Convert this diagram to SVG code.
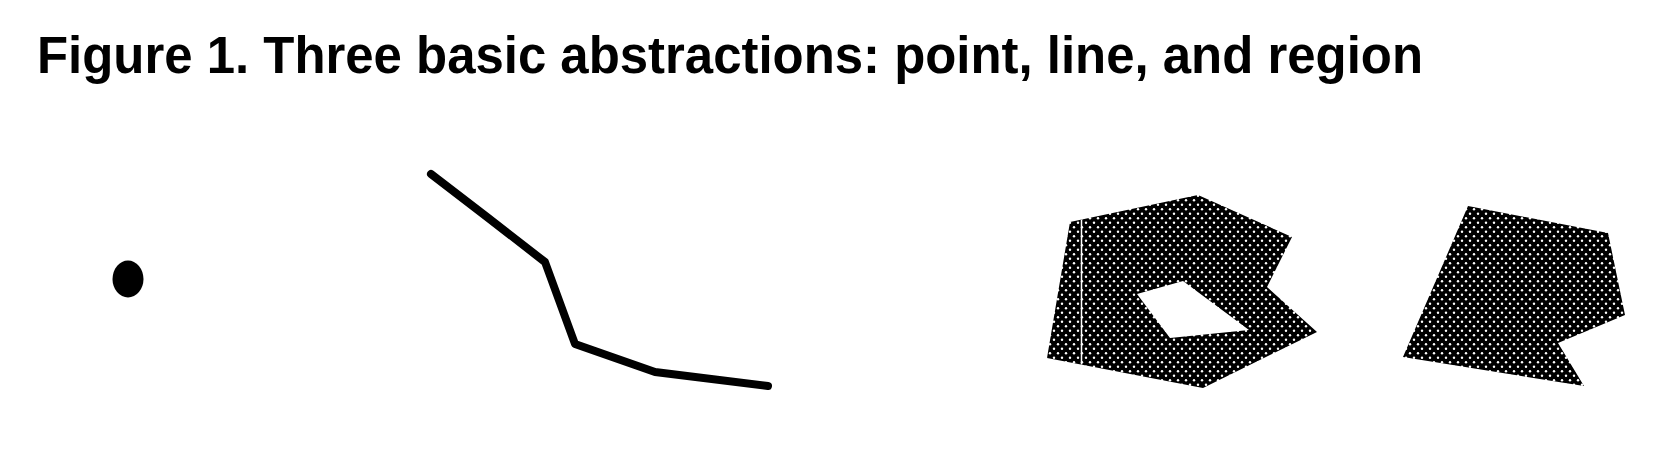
<svg xmlns="http://www.w3.org/2000/svg" width="1670" height="474" viewBox="0 0 1670 474">
  <style>
    .title { font-family: "Liberation Sans", Arial, Helvetica, sans-serif; font-weight: bold; font-size: 51px; fill: #000; }
    .stroke-line { fill: none; stroke: #000; stroke-width: 8; stroke-linejoin: round; stroke-linecap: round; }
    .dotted { fill: url(#dots); }
  </style>
  <defs>
    <pattern id="dots" patternUnits="userSpaceOnUse" width="8" height="9">
      <rect width="8" height="9" fill="#000"/>
      <circle cx="2" cy="2.25" r="1.2" fill="#fff"/>
      <circle cx="6" cy="6.75" r="1.2" fill="#fff"/>
    </pattern>
  </defs>
  <rect width="1670" height="474" fill="#fff"/>
  <g id="title">
    <text class="title" x="37" y="73" textLength="1386" lengthAdjust="spacingAndGlyphs">Figure 1. Three basic abstractions: point, line, and region</text>
  </g>
  <g id="point">
    <ellipse cx="128" cy="279" rx="15.5" ry="18.5" fill="#000"/>
  </g>
  <g id="line">
    <polyline class="stroke-line" points="431,174 487,217 545,262 575,344 655,372 768,386"/>
  </g>
  <g id="region-with-hole">
    <path class="dotted" fill-rule="evenodd" d="M1070,222 L1198,195 L1292,237 L1267,287 L1317,332 L1203,388 L1047,358 Z M1137,294 L1183,281 L1249,330 L1170,338 Z"/>
    <line x1="1081.5" y1="220" x2="1081.5" y2="364.5" stroke="#fff" stroke-width="1.5"/>
  </g>
  <g id="region-simple">
    <path class="dotted" d="M1468,206 L1608,233 L1625,315 L1558,343 L1584,386 L1403,357 Z"/>
  </g>
</svg>
